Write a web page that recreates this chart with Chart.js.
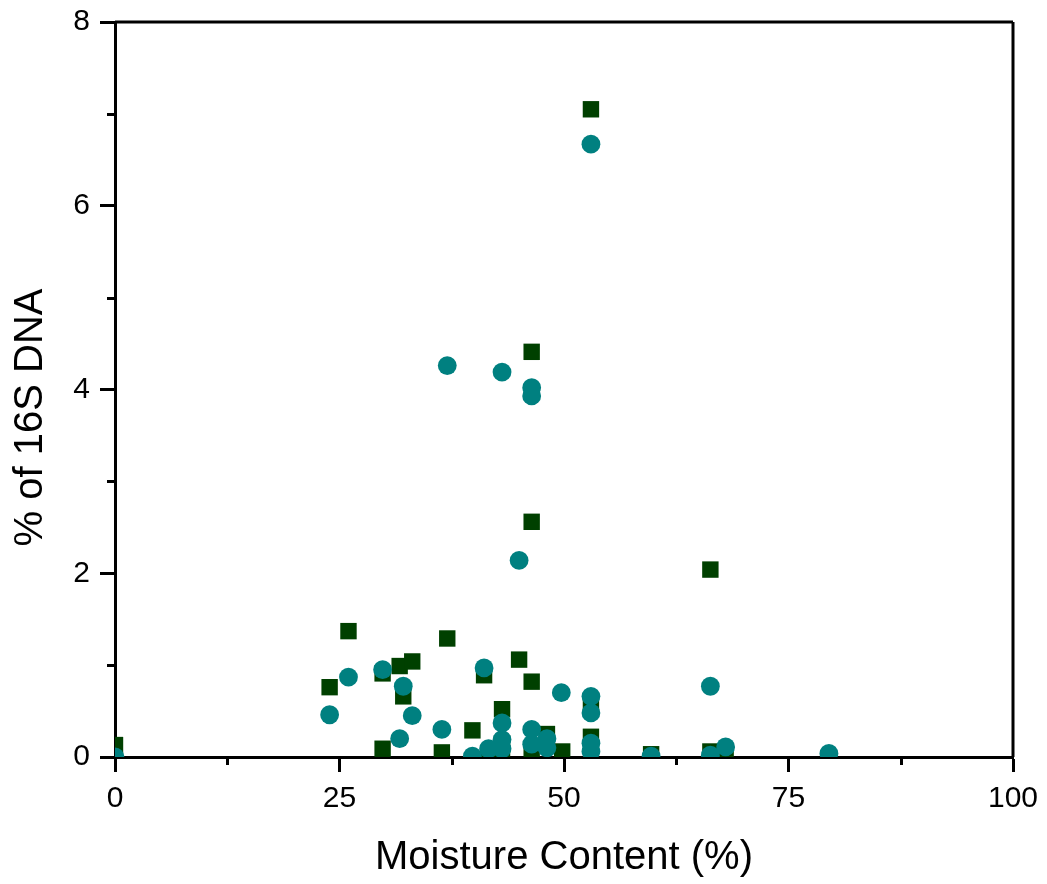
<!DOCTYPE html>
<html>
<head>
<meta charset="utf-8">
<script src="https://cdn.jsdelivr.net/npm/chart.js@4/dist/chart.umd.min.js"></script>
<style>
html,body{margin:0;padding:0;background:#fff;}
canvas{display:block;}
</style>
</head>
<body>
<canvas id="c" width="1047" height="884"></canvas>
<script>
// Square series (dark green)
const squareX = [0, 23.9, 26.0, 29.8, 29.8, 31.7, 33.1, 32.1, 37.0, 36.4, 39.8, 41.1, 41.6, 43.1, 43.1, 43.1, 45.0, 46.4, 46.4, 46.4, 46.4, 48.1, 49.8, 53.0, 53.0, 53.0, 59.7, 66.3, 66.3, 68.0];
const squareY = [0.13, 0.76, 1.37, 0.91, 0.09, 0.99, 1.04, 0.66, 1.29, 0.05, 0.29, 0.89, 0.03, 0.52, 0.15, 0.04, 1.06, 4.41, 2.56, 0.82, 0.05, 0.25, 0.06, 7.05, 0.58, 0.22, 0.03, 2.04, 0.06, 0.04];
// Circle series (teal)
const circleX = [0, 23.9, 26.0, 29.8, 31.7, 32.1, 33.1, 36.4, 37.0, 39.8, 41.1, 41.6, 43.1, 43.1, 43.1, 43.1, 45.0, 46.4, 46.4, 46.4, 46.4, 48.1, 48.1, 49.7, 53.0, 53.0, 53.0, 53.0, 53.0, 59.7, 66.3, 66.3, 68.0, 79.5];
const circleY = [0, 0.46, 0.87, 0.95, 0.20, 0.77, 0.45, 0.30, 4.26, 0.01, 0.97, 0.09, 4.19, 0.37, 0.19, 0.09, 2.14, 4.02, 3.93, 0.30, 0.14, 0.20, 0.10, 0.70, 6.67, 0.66, 0.48, 0.15, 0.06, 0.01, 0.77, 0.02, 0.11, 0.04];
// Axes
const xMin = 0, xMax = 100, xMajor = 25, xMinorTicks = [12.5, 37.5, 62.5, 87.5];
const yMin = 0, yMax = 8, yMajor = 2, yMinorTicks = [1, 3, 5, 7];
const xTitle = 'Moisture Content (%)';
const yTitle = '% of 16S DNA';

const FONT = "'Liberation Sans', Arial, Helvetica, sans-serif";
const toPts = (xs, ys) => xs.map((x, i) => ({x: x, y: ys[i]}));

const framePlugin = {
  id: 'frame',
  afterDraw(chart) {
    const {ctx, chartArea: a, scales} = chart;
    ctx.save();
    ctx.strokeStyle = '#000';
    ctx.lineWidth = 3;
    ctx.beginPath();
    ctx.moveTo(a.left, a.top); ctx.lineTo(a.right, a.top);
    ctx.moveTo(a.right, a.top); ctx.lineTo(a.right, a.bottom);
    ctx.stroke();
    // minor ticks
    ctx.beginPath();
    xMinorTicks.forEach(v => {
      const px = Math.round(scales.x.getPixelForValue(v)) + 0.5;
      ctx.moveTo(px, a.bottom); ctx.lineTo(px, a.bottom + 8);
    });
    yMinorTicks.forEach(v => {
      const py = Math.round(scales.y.getPixelForValue(v)) + 0.5;
      ctx.moveTo(a.left, py); ctx.lineTo(a.left - 8, py);
    });
    ctx.stroke();
    // y axis title (placed slightly below the plot centre, as in the original)
    ctx.translate(31, (a.top + a.bottom) / 2 + 28);
    ctx.rotate(-Math.PI / 2);
    ctx.fillStyle = '#000';
    ctx.font = "40px " + FONT;
    ctx.textAlign = 'center';
    ctx.textBaseline = 'middle';
    ctx.fillText(yTitle, 0, 0);
    ctx.restore();
  }
};

new Chart(document.getElementById('c'), {
  type: 'scatter',
  data: {
    datasets: [
      {label: 'circles', data: toPts(circleX, circleY), pointStyle: 'circle', pointRadius: 9.4,
       backgroundColor: '#008080', borderWidth: 0, clip: 0},
      {label: 'squares', data: toPts(squareX, squareY), pointStyle: 'rect', pointRadius: 11.6,
       backgroundColor: '#004000', borderWidth: 0, clip: 0}
    ]
  },
  options: {
    responsive: false,
    animation: false,
    events: [],
    layout: {padding: {top: 22, right: 34, left: 0, bottom: 0}},
    plugins: {legend: {display: false}, tooltip: {enabled: false}},
    scales: {
      x: {
        type: 'linear', min: xMin, max: xMax, z: 1,
        ticks: {stepSize: xMajor, color: '#000', font: {family: FONT, size: 30}, padding: 9, maxRotation: 0},
        grid: {drawOnChartArea: false, drawTicks: true, tickLength: 15, tickWidth: 3, tickColor: '#000'},
        border: {display: true, color: '#000', width: 3},
        title: {display: true, text: xTitle, color: '#000', font: {family: FONT, size: 40}, padding: {top: 0, bottom: 2}},
        afterFit(s) { s.height = 127; s.paddingLeft = 0; s.paddingRight = 0; }
      },
      y: {
        type: 'linear', min: yMin, max: yMax, z: 1,
        ticks: {stepSize: yMajor, color: '#000', font: {family: FONT, size: 30}, padding: 10},
        grid: {drawOnChartArea: false, drawTicks: true, tickLength: 15, tickWidth: 3, tickColor: '#000'},
        border: {display: true, color: '#000', width: 3},
        title: {display: false},
        afterFit(s) { s.width = 115; s.paddingTop = 0; s.paddingBottom = 0; }
      }
    }
  },
  plugins: [framePlugin]
});
</script>
</body>
</html>
